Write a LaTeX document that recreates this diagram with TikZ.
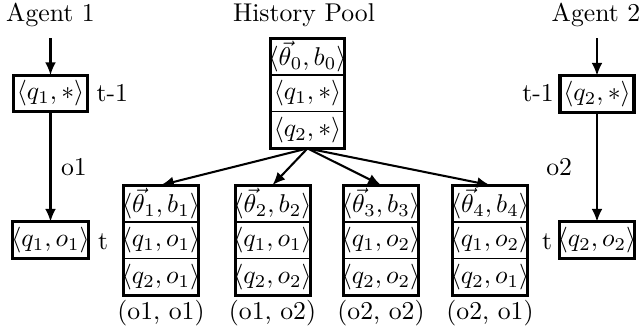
\documentclass[tikz,border=0pt]{standalone}
\usetikzlibrary{arrows.meta,positioning}
\begin{document}
\begin{tikzpicture}[x=0.389pt,y=-0.389pt,
  box/.style={draw,line width=1.2pt,minimum width=28.8pt,minimum height=14.2pt,inner xsep=-0.6pt,inner ysep=0.5pt,outer sep=0pt},
  cell/.style={draw,line width=0.4pt,minimum width=28.6pt,minimum height=14.3pt,inner xsep=-0.6pt,inner ysep=0.5pt,outer sep=0pt},
  topcell/.style={cell,line width=0.8pt},
  outer/.style={draw,line width=1.2pt},
  arr/.style={-{Latex[length=5pt,width=4.2pt]},line width=0.8pt},
  lab/.style={inner sep=0pt}]
\useasboundingbox (0,0) rectangle (642,333);
% Agent 1
\node[lab] (ag1) at (50.5,15) {Agent 1};
\coordinate (ag1s) at (50.5,38);
\node[box] (a1) at (50.5,93.5) {$\langle q_1,*\rangle$};
\node[box] (a1t) at (50.5,240) {$\langle q_1,o_1\rangle$};
\node[lab,anchor=west] (a1l) at (96,93.5) {t-1};
\node[lab] (a1tl) at (103,242) {t};
\draw[arr] (ag1s) -- (a1.north);
\draw[arr] (a1.south) -- node[lab,right=3.7pt] (o1l) {o1} (a1t.north);
% Agent 2
\node[lab] (ag2) at (596,15) {Agent 2};
\coordinate (ag2s) at (597,38);
\node[box] (a2) at (597,94) {$\langle q_2,*\rangle$};
\node[box] (a2t) at (597,240) {$\langle q_2,o_2\rangle$};
\node[lab] (a2l) at (538,93.5) {t-1};
\node[lab] (a2tl) at (547,242) {t};
\draw[arr] (ag2s) -- (a2.north);
\draw[arr] (a2.south) -- node[lab,left=9.3pt] (o2l) {o2} (a2t.north);
% History pool
\node[lab] (hpl) at (304,15) {History Pool};
\node[topcell] (h0) at (307.5,56.5) {$\langle\vec{\theta}_0,b_0\rangle$};
\node[cell,below=0pt of h0] (h1) {$\langle q_1,*\rangle$};
\node[cell,below=0pt of h1] (h2) {$\langle q_2,*\rangle$};
\draw[outer] (h0.north west) rectangle (h2.south east);
% Stacks
\node[topcell] (s1a) at (161,203.5) {$\langle\vec{\theta}_1,b_1\rangle$};
\node[cell,below=0pt of s1a] (s1b) {$\langle q_1,o_1\rangle$};
\node[cell,below=0pt of s1b] (s1c) {$\langle q_2,o_1\rangle$};
\draw[outer] (s1a.north west) rectangle (s1c.south east);
\node[lab] (l1) at (161,313) {(o1, o1)};
\node[topcell] (s2a) at (272.5,203.5) {$\langle\vec{\theta}_2,b_2\rangle$};
\node[cell,below=0pt of s2a] (s2b) {$\langle q_1,o_1\rangle$};
\node[cell,below=0pt of s2b] (s2c) {$\langle q_2,o_2\rangle$};
\draw[outer] (s2a.north west) rectangle (s2c.south east);
\node[lab] (l2) at (272.5,313) {(o1, o2)};
\node[topcell] (s3a) at (381,203.5) {$\langle\vec{\theta}_3,b_3\rangle$};
\node[cell,below=0pt of s3a] (s3b) {$\langle q_1,o_2\rangle$};
\node[cell,below=0pt of s3b] (s3c) {$\langle q_2,o_2\rangle$};
\draw[outer] (s3a.north west) rectangle (s3c.south east);
\node[lab] (l3) at (381,313) {(o2, o2)};
\node[topcell] (s4a) at (490,203.5) {$\langle\vec{\theta}_4,b_4\rangle$};
\node[cell,below=0pt of s4a] (s4b) {$\langle q_1,o_2\rangle$};
\node[cell,below=0pt of s4b] (s4c) {$\langle q_2,o_1\rangle$};
\draw[outer] (s4a.north west) rectangle (s4c.south east);
\node[lab] (l4) at (490,313) {(o2, o1)};
\draw[arr] (h2.south) -- (s1a.north);
\draw[arr] (h2.south) -- (s2a.north);
\draw[arr] (h2.south) -- (s3a.north);
\draw[arr] (h2.south) -- (s4a.north);
\end{tikzpicture}
\end{document}
